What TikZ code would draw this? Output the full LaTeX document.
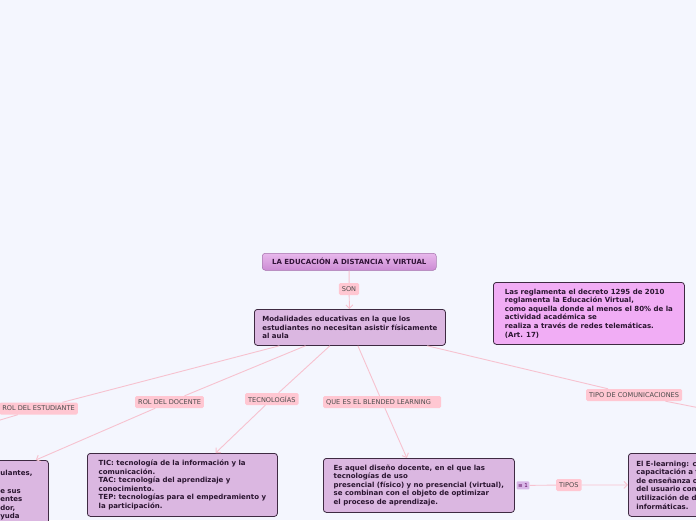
\documentclass[tikz,border=0pt]{standalone}
\usepackage{fontspec}
\setmainfont{DejaVu Sans}
\usepackage{tikz}
\usetikzlibrary{arrows.meta,calc,positioning}
\usepackage{xcolor}
\definecolor{mapback}{HTML}{F4F6FE}
\definecolor{mapline}{HTML}{F7C2CF}
\definecolor{maplabel}{HTML}{FFC7D2}
\definecolor{mapnode}{HTML}{DBB7E1}
\definecolor{mapnote}{HTML}{F1ADF5}
\definecolor{mapedge}{HTML}{3E2A42}
\definecolor{maptext}{HTML}{2A1530}
\definecolor{maptoptop}{HTML}{E8B8EC}
\definecolor{maptopbot}{HTML}{CC8BD4}
\definecolor{mapbadgefill}{HTML}{D9B8E8}
\newcommand{\mapfont}{\fontsize{7}{8.6}\selectfont\bfseries}
\newcommand{\tagfont}{\fontsize{6.6}{7}\selectfont}

\begin{document}
\begin{tikzpicture}[x=1pt,y=-1pt,
  mapbox/.style={draw=mapedge,line width=0.8pt,rounded corners=3pt,
    fill=mapnode,anchor=north west,align=left,inner xsep=8pt,
    inner ysep=0pt,font=\mapfont,text=maptext},
  maptag/.style={fill=maplabel,rounded corners=1.5pt,minimum height=12pt,
    inner xsep=3pt,inner ysep=0pt,font=\tagfont,text=black!70},
  mapbadge/.style={fill=mapbadgefill,rounded corners=1pt,minimum height=8pt,
    inner xsep=1.5pt,inner ysep=0pt,font=\fontsize{5.5}{5.5}\selectfont,
    text=violet!70!black},
  maplink/.style={draw=mapline,line width=0.9pt},
  maparrow/.style={maplink,-{Straight Barb[length=3.5pt,width=7pt]}}
]
  \useasboundingbox (0,0) rectangle (696,520);
  \fill[mapback] (0,0) rectangle (696,520);
  \clip (0,0) rectangle (696,520);

  % central topic
  \node[draw=maptopbot!80!black,line width=0.5pt,rounded corners=3pt,
    top color=maptoptop,bottom color=maptopbot,anchor=north west,
    minimum width=174pt,minimum height=17pt,inner sep=0pt,
    font=\fontsize{7}{7}\selectfont\bfseries,text=maptext!90!violet]
    (top) at (262,253) {LA EDUCACIÓN A DISTANCIA Y VIRTUAL};
  \node[maptag] (son) at (349,289) {SON};
  \node[mapbox,minimum width=190pt,minimum height=36pt] (main) at (254,309)
    {Modalidades educativas en la que los\\
     estudiantes no necesitan asistir físicamente\\
     al aula};
  \draw[maplink] (top) -- (son);
  \draw[maparrow] (son) -- (main);

  % floating note
  \node[mapbox,fill=mapnote,minimum width=191pt,minimum height=62pt] (note)
    at (493,282)
    {Las reglamenta el decreto 1295 de 2010\\
     reglamenta la Educación Virtual,\\
     como aquella donde al menos el 80\% de la\\
     actividad académica se\\
     realiza a través de redes telemáticas.\\
     (Art. 17)};

  % branch labels
  \node[maptag,anchor=east] (estud) at (78,408.5) {ROL DEL ESTUDIANTE};
  \node[maptag,anchor=west] (docente) at (135,402) {ROL DEL DOCENTE};
  \node[maptag,anchor=west] (tecno) at (245,399) {TECNOLOGÍAS};
  \node[maptag,anchor=west,minimum width=118pt,align=left,text width=112pt]
    (blend) at (323,402) {QUE ES EL BLENDED LEARNING};
  \node[maptag,anchor=west] (comun) at (586,395) {TIPO DE COMUNICACIONES};
  \coordinate (estudout) at (-40,432);
  \coordinate (comunout) at (720,412);

  % child topics
  \node[mapbox,inner xsep=4pt,text width=44pt,minimum height=70pt] (rolbox)
    at (-4,460)
    {ulantes,\\ \mbox{}\\ e sus\\ entes\\ dor,\\ yuda};
  \node[mapbox,minimum width=190pt,minimum height=63pt] (tic) at (87,453)
    {TIC: tecnología de la información y la\\
     comunicación.\\
     TAC: tecnología del aprendizaje y\\
     conocimiento.\\
     TEP: tecnologías para el empedramiento y\\
     la participación.};
  \node[mapbox,minimum width=191pt,minimum height=54pt] (blended) at (323,458)
    {Es aquel diseño docente, en el que las\\
     tecnologías de uso\\
     presencial (físico) y no presencial (virtual),\\
     se combinan con el objeto de optimizar\\
     el proceso de aprendizaje.};
  \node[mapbox,text width=180pt,minimum height=63pt] (elearn) at (628,453)
    {El E-learning: c\\
     capacitación a t\\
     de enseñanza o\\
     del usuario con\\
     utilización de d\\
     informáticas.};
  \node[mapbadge,right=1.5pt of blended] (badge) {≡ 1};
  \node[maptag,anchor=west] (tipos) at (556,485) {TIPOS};

  % connectors
  \draw[maplink] (main) -- (estud);
  \draw[maplink] (estud) -- (estudout);
  \draw[maplink] (main) -- (docente);
  \draw[maparrow] (docente) -- ($(rolbox.north east)+(-13,0)$);
  \draw[maplink] (main) -- (tecno);
  \draw[maparrow] (tecno) -- (tic);
  \draw[maplink] (main) -- (blend);
  \draw[maparrow] (blend) -- (blended);
  \draw[maplink] (main) -- (comun);
  \draw[maplink] (comun) -- (comunout);
  \draw[maplink] (badge) -- (tipos);
  \draw[maparrow] (tipos) -- (elearn);
\end{tikzpicture}
\end{document}
